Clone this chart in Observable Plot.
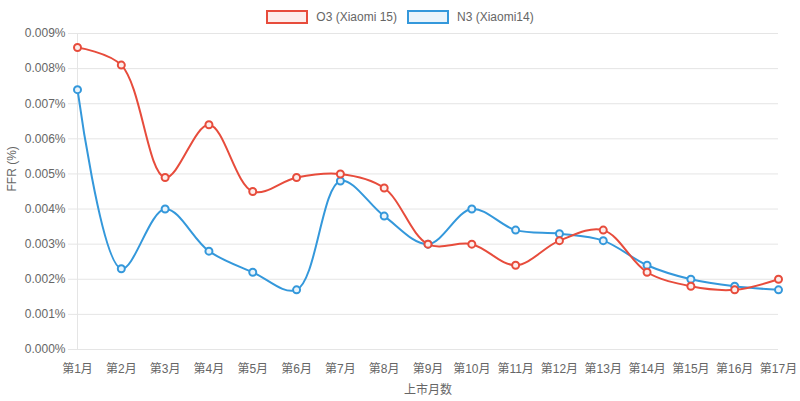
<!DOCTYPE html>
<html>
<head>
<meta charset="utf-8">
<script src="https://cdn.jsdelivr.net/npm/d3@7"></script>
<script src="https://cdn.jsdelivr.net/npm/@observablehq/plot@0.6"></script>
<style>
  html, body { margin: 0; padding: 0; background: #fff; overflow: hidden; }
  #wrap { position: relative; width: 800px; height: 401px; overflow: hidden; font-family: "Liberation Sans", Arial, "Noto Sans CJK SC", sans-serif; }
  #chart svg { display: block; max-width: none; }
  #legend { position: absolute; top: 10px; left: 0; width: 800px; display: flex; justify-content: center; align-items: center; font-size: 12px; color: #666; }
  .item { display: flex; align-items: center; margin: 0 5px; }
  .box { width: 38px; height: 10px; border: 2px solid; margin-right: 8px; }
</style>
</head>
<body>
<div id="wrap">
  <div id="chart"></div>
  <div id="legend"></div>
</div>
<script>
const months = ["第1月","第2月","第3月","第4月","第5月","第6月","第7月","第8月","第9月","第10月","第11月","第12月","第13月","第14月","第15月","第16月","第17月"];
const o3Values = [0.0086,0.0081,0.0049,0.0064,0.0045,0.0049,0.0050,0.0046,0.0030,0.0030,0.0024,0.0031,0.0034,0.0022,0.0018,0.0017,0.0020];
const n3Values = [0.0074,0.0023,0.0040,0.0028,0.0022,0.0017,0.0048,0.0038,0.0030,0.0040,0.0034,0.0033,0.0031,0.0024,0.0020,0.0018,0.0017];
const seriesNames = ["O3 (Xiaomi 15)", "N3 (Xiaomi14)"];
const seriesColors = ["#e74c3c", "#3498db"];
const seriesFills = ["rgba(231,76,60,0.1)", "rgba(52,152,219,0.1)"];
const yTicks = [0,0.001,0.002,0.003,0.004,0.005,0.006,0.007,0.008,0.009];

const o3 = months.map((m, i) => ({month: m, value: o3Values[i]}));
const n3 = months.map((m, i) => ({month: m, value: n3Values[i]}));

const plot = Plot.plot({
  width: 800,
  height: 401,
  marginLeft: 77,
  marginRight: 22,
  marginTop: 33,
  marginBottom: 52,
  style: {fontFamily: '"Liberation Sans", Arial, "Noto Sans CJK SC", sans-serif', fontSize: "12px", color: "#666", background: "transparent"},
  x: {type: "point", domain: months, padding: 0, round: false, label: null},
  y: {domain: [0, 0.009], label: null},
  marks: [
    Plot.ruleY(yTicks, {stroke: "#e5e5e5", strokeOpacity: 1, insetLeft: -9}),
    Plot.ruleX([months[0]], {stroke: "#e5e5e5", strokeOpacity: 1}),
    Plot.axisY(yTicks, {tickSize: 0, tickPadding: 12, tickFormat: d => d.toFixed(3) + "%", fill: "#666", label: null}),
    Plot.axisX({tickSize: 0, tickPadding: 15, fill: "#666", label: null}),
    Plot.text(["上市月数"], {frameAnchor: "bottom", dy: 44, fill: "#666", fontSize: 12}),
    Plot.text(["FFR (%)"], {frameAnchor: "left", dx: -65, rotate: -90, fill: "#666", fontSize: 12}),
    Plot.line(n3, {x: "month", y: "value", stroke: seriesColors[1], strokeWidth: 2, curve: "catmull-rom"}),
    Plot.dot(n3, {x: "month", y: "value", r: 3.5, stroke: seriesColors[1], strokeWidth: 2, fill: "#eaf4fb"}),
    Plot.line(o3, {x: "month", y: "value", stroke: seriesColors[0], strokeWidth: 2, curve: "catmull-rom"}),
    Plot.dot(o3, {x: "month", y: "value", r: 3.5, stroke: seriesColors[0], strokeWidth: 2, fill: "#fdedeb"})
  ]
});
document.getElementById("chart").appendChild(plot);

const legend = document.getElementById("legend");
seriesNames.forEach((name, i) => {
  const item = document.createElement("div");
  item.className = "item";
  const box = document.createElement("span");
  box.className = "box";
  box.style.borderColor = seriesColors[i];
  box.style.background = seriesFills[i];
  const label = document.createElement("span");
  label.textContent = name;
  item.appendChild(box);
  item.appendChild(label);
  legend.appendChild(item);
});
</script>
</body>
</html>
